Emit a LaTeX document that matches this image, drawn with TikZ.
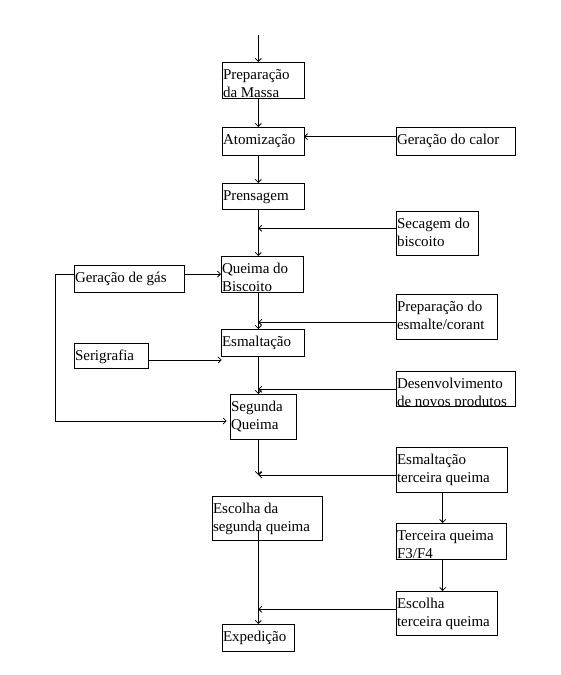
\documentclass[tikz,border=0pt]{standalone}
\usepackage{fontspec}
\setmainfont{Liberation Serif}
\usetikzlibrary{arrows.meta}
\tikzset{
  proc/.style={draw, line width=0.8pt, inner sep=0pt, outer sep=0pt, anchor=north west},
  lbl/.style={inner sep=0pt, anchor=base west, font=\fontsize{15}{17.5}\selectfont},
  arr/.style={line width=0.8pt, -{Straight Barb[length=3pt,width=6pt]}},
  ln/.style={line width=0.8pt}
}
\newcommand\procbox[6]{%
  \node[proc, minimum width={#4pt-#2pt}, minimum height={#5pt-#3pt},
    path picture={\node[lbl] (#1t) at ([xshift=1pt,yshift=-17.5pt]path picture bounding box.north west)
      {\parbox[t]{200pt}{\raggedright #6}};}] (#1) at (#2,#3) {};}
\begin{document}
\begin{tikzpicture}[x=1pt,y=-1pt]
\useasboundingbox (0,0) rectangle (560,675);
\procbox{prep}{222}{62}{304}{98}{Preparação\\da Massa}
\procbox{atom}{222}{127}{304}{155}{Atomização}
\procbox{calor}{396}{127}{515}{155}{Geração do calor}
\procbox{prens}{222}{183}{304}{209}{Prensagem}
\procbox{sec}{396}{211}{478}{255}{Secagem do\\biscoito}
\procbox{qb}{221}{256}{303}{292}{Queima do\\Biscoito}
\procbox{gas}{74}{265}{184}{292}{Geração de gás}
\procbox{esm}{396}{294}{497}{339}{Preparação do\\esmalte/corant}
\procbox{esmal}{221}{329}{304}{356}{Esmaltação}
\procbox{seri}{74}{343}{148}{368}{Serigrafia}
\procbox{des}{396}{371}{515}{406}{Desenvolvimento\\de novos produtos}
\procbox{sq}{230}{394}{296}{439}{Segunda\\Queima}
\procbox{et}{396}{447}{507}{492}{Esmaltação\\terceira queima}
\procbox{tq}{396}{523}{506}{559}{Terceira queima\\F3/F4}
\procbox{etq}{396}{591}{497}{635}{Escolha\\terceira queima}
\procbox{esq}{212}{496}{322}{540}{Escolha da\\segunda queima}
\procbox{exp}{222}{624}{294}{651}{Expedição}

\coordinate (top) at (258.3,35);
\coordinate (jcalor) at (396,136.7);
\coordinate (jsec) at (258.3,228.3);
\coordinate (jesm) at (258.3,322.3);
\coordinate (jseri) at (221.7,360);
\coordinate (jdes) at (258.3,389.3);
\coordinate (jet) at (258.3,475);
\coordinate (jetq) at (258.3,609.3);
\coordinate (l1) at (55.7,274);
\coordinate (l2) at (55.7,421);
\coordinate (l3) at (226.7,421);
\coordinate (t3) at (442.7,492);
\coordinate (esqin) at (258.3,530);

\draw[arr] (top) -- (top |- prep.north);
\draw[arr] (top |- prep.south) -- (top |- atom.north);
\draw[arr] (jcalor) -- (jcalor -| atom.east);
\draw[arr] (top |- atom.south) -- (top |- prens.north);
\draw[arr] (top |- prens.south) -- (top |- qb.north);
\draw[arr] (jsec -| sec.west) -- (jsec);
\draw[arr] (gas.east |- qb.west) -- (qb.west);
\draw[arr] (gas.west |- qb.west) -- (l1) -- (l2) -- (l3);
\draw[arr] (top |- qb.south) -- (top |- esmal.north);
\draw[arr] (jesm -| esm.west) -- (jesm);
\draw[arr] (jseri -| seri.east) -- (jseri);
\draw[arr] (top |- esmal.south) -- (top |- sq.north);
\draw[arr] (jdes -| des.west) -- (jdes);
\draw[arr] (top |- sq.south) -- (jet);
\draw[arr] (jet -| et.west) -- (jet);
\draw[arr] (t3) -- (t3 |- tq.north);
\draw[arr] (t3 |- tq.south) -- (t3 |- etq.north);
\draw[arr] (jetq -| etq.west) -- (jetq);
\draw[arr] (esqin) -- (esqin |- exp.north);
\end{tikzpicture}
\end{document}
